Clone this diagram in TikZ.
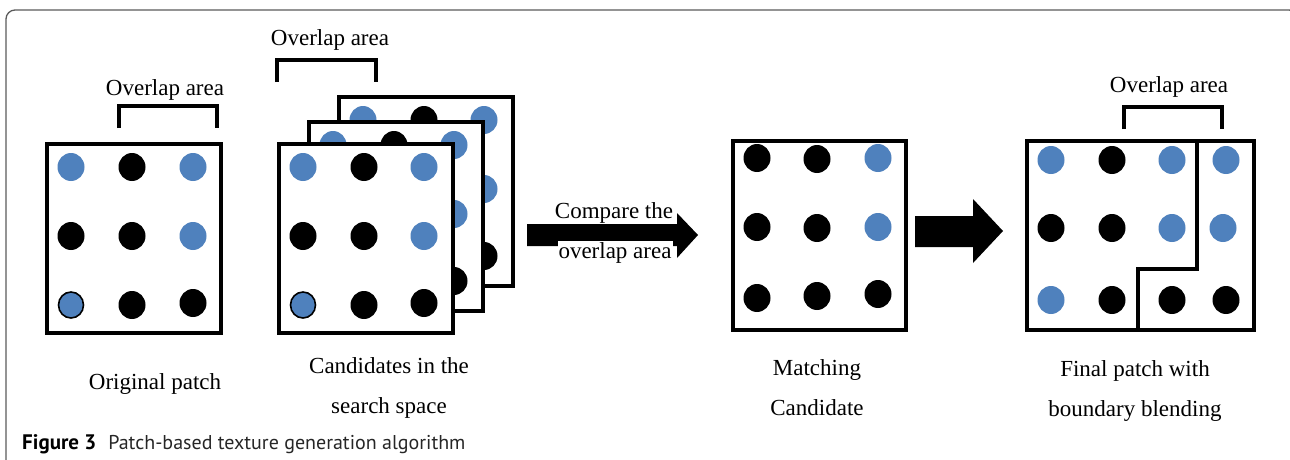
\documentclass[tikz,border=0pt]{standalone}
\usepackage{fontspec}
\setmainfont{Liberation Serif}
\newfontfamily\capfont{PT Sans}
\definecolor{dotblue}{RGB}{79,129,189}
\definecolor{framegray}{RGB}{90,90,90}
\begin{document}
\begin{tikzpicture}[x=1pt,y=-1pt,
  patch/.style={draw=black,line width=3.6pt,fill=white,inner sep=0pt,anchor=north west,
                minimum width=174pt,minimum height=189pt},
  bdot/.style={fill=black},
  udot/.style={fill=dotblue},
  odot/.style={fill=dotblue,draw=black,line width=1.6pt},
  bracket/.style={draw=black,line width=3.3pt},
  lbl/.style={font=\fontsize{23}{28}\selectfont,anchor=base,inner sep=0pt},
  arrowtext/.style={font=\fontsize{23}{28}\selectfont,anchor=base,fill=white,inner sep=1pt},
  blockarrow/.style={fill=black}]
\useasboundingbox (0,0) rectangle (1290,459);

% outer figure frame
\draw[framegray,line width=1.3pt,rounded corners=9pt] (6,480) -- (6,10) -- (1298,10) -- (1298,480);

% dot radii
\def\rx{13.5}\def\ry{14}

% ---------- original patch ----------
\node[patch] (orig) at (45,142) {};
\fill[udot] (71,167) ellipse[x radius=\rx,y radius=\ry];
\fill[bdot] (132,167) ellipse[x radius=\rx,y radius=\ry];
\fill[udot] (193,167) ellipse[x radius=\rx,y radius=\ry];
\fill[bdot] (71,236) ellipse[x radius=\rx,y radius=\ry];
\fill[bdot] (132,236) ellipse[x radius=\rx,y radius=\ry];
\fill[udot] (193,236) ellipse[x radius=\rx,y radius=\ry];
\filldraw[odot] (71,305) ellipse[x radius=12.5,y radius=13];
\fill[bdot] (132,305) ellipse[x radius=\rx,y radius=\ry];
\fill[bdot] (193,303) ellipse[x radius=\rx,y radius=\ry];
\draw[bracket] (119,128) -- (119,106) -- (217,106) -- (217,128);
\node[lbl] (oa1) at (165,95) {Overlap area};
\node[lbl] (lorig) at (155,389) {Original patch};

% ---------- stack of candidates ----------
\foreach \dx/\dy/\nm in {60/-47/cback,30/-22/cmid,0/0/cfront}{
  \begin{scope}[shift={(\dx,\dy)}]
    \node[patch] (\nm) at (277,142) {};
    \fill[udot] (303,167) ellipse[x radius=\rx,y radius=\ry];
    \fill[bdot] (364,167) ellipse[x radius=\rx,y radius=\ry];
    \fill[udot] (424,167) ellipse[x radius=\rx,y radius=\ry];
    \fill[bdot] (303,236) ellipse[x radius=\rx,y radius=\ry];
    \fill[bdot] (364,236) ellipse[x radius=\rx,y radius=\ry];
    \fill[udot] (424,236) ellipse[x radius=\rx,y radius=\ry];
    \filldraw[odot] (303,305) ellipse[x radius=12.5,y radius=13];
    \fill[bdot] (364,305) ellipse[x radius=\rx,y radius=\ry];
    \fill[bdot] (424,303) ellipse[x radius=\rx,y radius=\ry];
  \end{scope}
}
\draw[bracket] (277,82) -- (277,60) -- (376,60) -- (376,82);
\node[lbl] (oa2) at (330,45) {Overlap area};
\node[lbl] (lcand1) at (389,373) {Candidates in the};
\node[lbl] (lcand2) at (389,413) {search space};

% ---------- compare arrow ----------
\fill[blockarrow] (527,224) -- (677,224) -- (677,213) -- (698,235)
  -- (677,258) -- (677,246) -- (527,246) -- cycle;
\node[arrowtext] (cmp1) at (614,218) {Compare the};
\node[arrowtext] (cmp2) at (615,258) {overlap area};

% ---------- matching candidate ----------
\node[patch,minimum width=173pt] (match) at (731,139) {};
\fill[bdot] (757,158) ellipse[x radius=\rx,y radius=\ry];
\fill[bdot] (817,159) ellipse[x radius=\rx,y radius=\ry];
\fill[udot] (878,158) ellipse[x radius=\rx,y radius=\ry];
\fill[bdot] (757,227) ellipse[x radius=\rx,y radius=\ry];
\fill[bdot] (817,228) ellipse[x radius=\rx,y radius=\ry];
\fill[udot] (878,227) ellipse[x radius=\rx,y radius=\ry];
\fill[bdot] (757,298) ellipse[x radius=\rx,y radius=\ry];
\fill[bdot] (817,296) ellipse[x radius=\rx,y radius=\ry];
\fill[bdot] (878,294) ellipse[x radius=\rx,y radius=\ry];
\node[lbl] (lmatch1) at (817,375) {Matching};
\node[lbl] (lmatch2) at (817,415) {Candidate};

% ---------- second arrow ----------
\fill[blockarrow] (915,216) -- (973,216) -- (973,199) -- (1003,231)
  -- (973,263) -- (973,247) -- (915,247) -- cycle;

% ---------- final patch ----------
\node[patch,minimum width=227pt] (final) at (1025,139) {};
\draw[black,line width=3.6pt] (1197,139) -- (1197,269) -- (1138,269) -- (1138,328);
\fill[udot] (1051,160) ellipse[x radius=\rx,y radius=\ry];
\fill[bdot] (1112,160) ellipse[x radius=\rx,y radius=\ry];
\fill[udot] (1172,160) ellipse[x radius=\rx,y radius=\ry];
\fill[udot] (1226,160) ellipse[x radius=\rx,y radius=\ry];
\fill[bdot] (1051,228) ellipse[x radius=\rx,y radius=\ry];
\fill[bdot] (1112,228) ellipse[x radius=\rx,y radius=\ry];
\fill[udot] (1172,228) ellipse[x radius=\rx,y radius=\ry];
\fill[udot] (1223,228) ellipse[x radius=\rx,y radius=\ry];
\fill[udot] (1051,300) ellipse[x radius=\rx,y radius=\ry];
\fill[bdot] (1112,300) ellipse[x radius=\rx,y radius=\ry];
\fill[bdot] (1172,300) ellipse[x radius=\rx,y radius=\ry];
\fill[bdot] (1226,300) ellipse[x radius=\rx,y radius=\ry];
\draw[bracket] (1124,129) -- (1124,107) -- (1222,107) -- (1222,129);
\node[lbl] (oa3) at (1169,92) {Overlap area};
\node[lbl] (lfinal1) at (1135,376) {Final patch with};
\node[lbl] (lfinal2) at (1135,416) {boundary blending};

% ---------- caption ----------
\node[anchor=base west,inner sep=0pt,font=\capfont\fontsize{20}{24}\selectfont] (cap) at (22,449)
  {{\fontsize{21}{24}\selectfont\textbf{Figure 3}}\hspace{12pt}{\color{black!85}Patch-based texture generation algorithm}};
\end{tikzpicture}
\end{document}
